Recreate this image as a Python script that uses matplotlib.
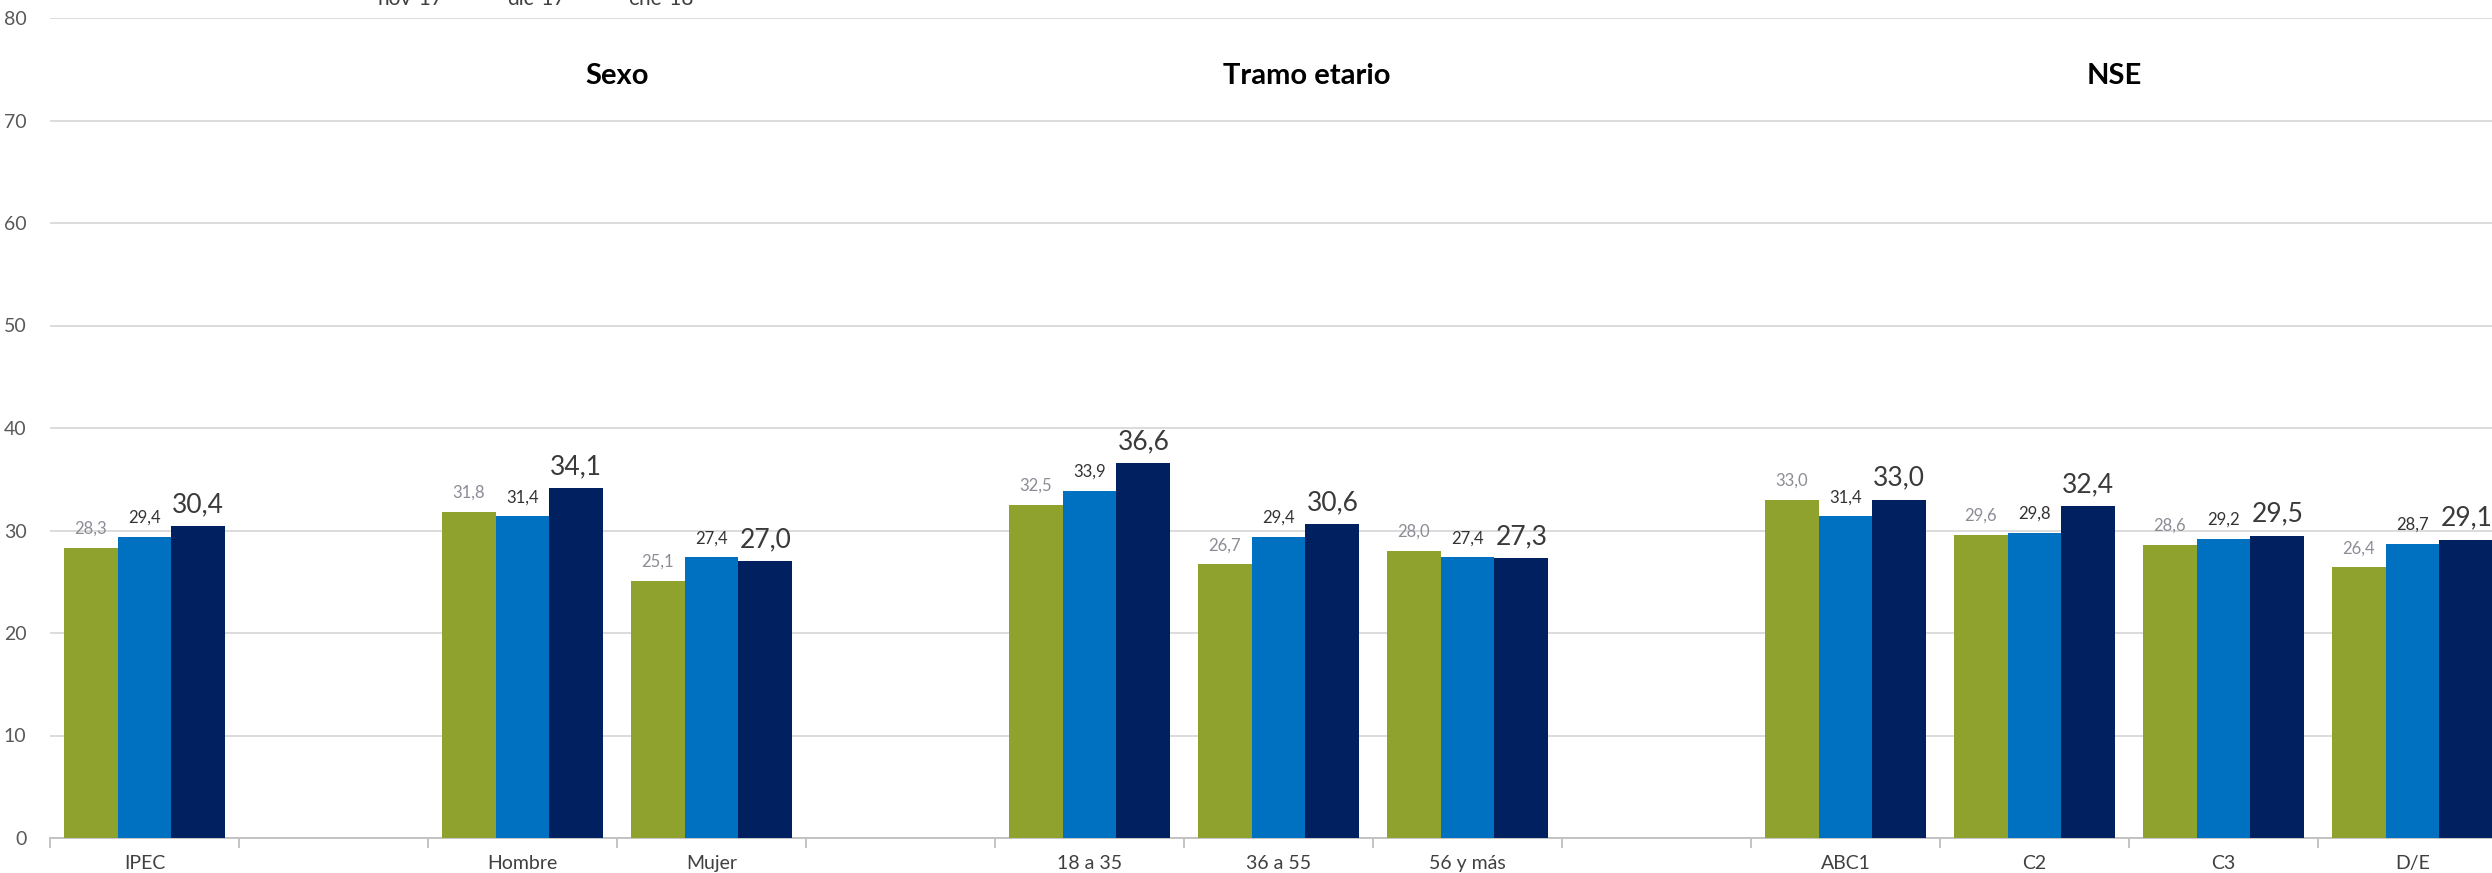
import numpy as np
import matplotlib
matplotlib.use("Agg")
import matplotlib.pyplot as plt

plt.rcParams['font.family'] = ['Lato', 'DejaVu Sans']

categories = ["IPEC", "", "Hombre", "Mujer", "", "18 a 35", "36 a 55", "56 y más",
              "", "ABC1", "C2", "C3", "D/E"]
series_names = ["nov-17", "dic-17", "ene-18"]
nov17 = [28.3, None, 31.8, 25.1, None, 32.5, 26.7, 28.0, None, 33.0, 29.6, 28.6, 26.4]
dic17 = [29.4, None, 31.4, 27.4, None, 33.9, 29.4, 27.4, None, 31.4, 29.8, 29.2, 28.7]
ene18 = [30.4, None, 34.1, 27.0, None, 36.6, 30.6, 27.3, None, 33.0, 32.4, 29.5, 29.1]
section_titles = ["Sexo", "Tramo etario", "NSE"]
section_x = [2.5, 6.15, 10.42]
yticks = [0, 10, 20, 30, 40, 50, 60, 70, 80]

colors = ["#8FA22E", "#0070C0", "#002060"]
label_colors = ["#8C8C96", "#333333", "#3A3A3A"]
label_sizes = [12, 12, 19]

W, H, DPI = 2492, 873, 100
fig = plt.figure(figsize=(W / DPI, H / DPI), dpi=DPI)
ax_left = 50 / W
ax_w = 13 * 189 / W
ax_bottom = (H - 838) / H
ax_h = (838 - 18) / H
ax = fig.add_axes([ax_left, ax_bottom, ax_w, ax_h])

x = np.arange(len(categories))
bw = 0.285
all_series = [nov17, dic17, ene18]
for i, (vals, col) in enumerate(zip(all_series, colors)):
    xs = [xi + (i - 1) * bw for xi, v in zip(x, vals) if v is not None]
    vs = [v for v in vals if v is not None]
    ax.bar(xs, vs, width=bw, color=col, edgecolor="none", zorder=3)
    for xx, vv in zip(xs, vs):
        ax.annotate(f"{vv:.1f}".replace(".", ","), (xx, vv), xytext=(0, 14),
                    textcoords="offset pixels", ha="center", va="baseline",
                    fontsize=label_sizes[i], color=label_colors[i], zorder=4)

ax.set_xlim(-0.5, len(categories) - 0.5)
ax.set_ylim(0, 80)
ax.set_yticks(yticks)
ax.set_yticklabels([str(t) for t in yticks])
ax.yaxis.grid(True, color="#D9D9D9", linewidth=1.3, zorder=0)
ax.set_axisbelow(True)

ax.set_xticks(x)
ax.set_xticklabels(categories)
ax.set_xticks(np.arange(-0.5, len(categories)), minor=True)
ax.tick_params(axis="x", which="major", length=0, pad=12, labelsize=14, labelcolor="#404040")
ax.tick_params(axis="x", which="minor", length=7, width=1.3, color="#BFBFBF")
ax.tick_params(axis="y", length=0, pad=17, labelsize=14, labelcolor="#595959")

for s in ["top", "right", "left"]:
    ax.spines[s].set_visible(False)
ax.spines["bottom"].set_color("#BFBFBF")
ax.spines["bottom"].set_linewidth(1.3)

for t, sx in zip(section_titles, section_x):
    ax.text(sx, 74.3, t, ha="center", va="center", fontsize=21,
            fontweight="bold", color="#000000")

leg_x = [377, 507, 628]
for name, lx in zip(series_names, leg_x):
    fig.text(lx / W, 1 - 5 / H, name, ha="left", va="baseline", fontsize=15,
             color="#404040")

fig.savefig("out.png", dpi=DPI)
